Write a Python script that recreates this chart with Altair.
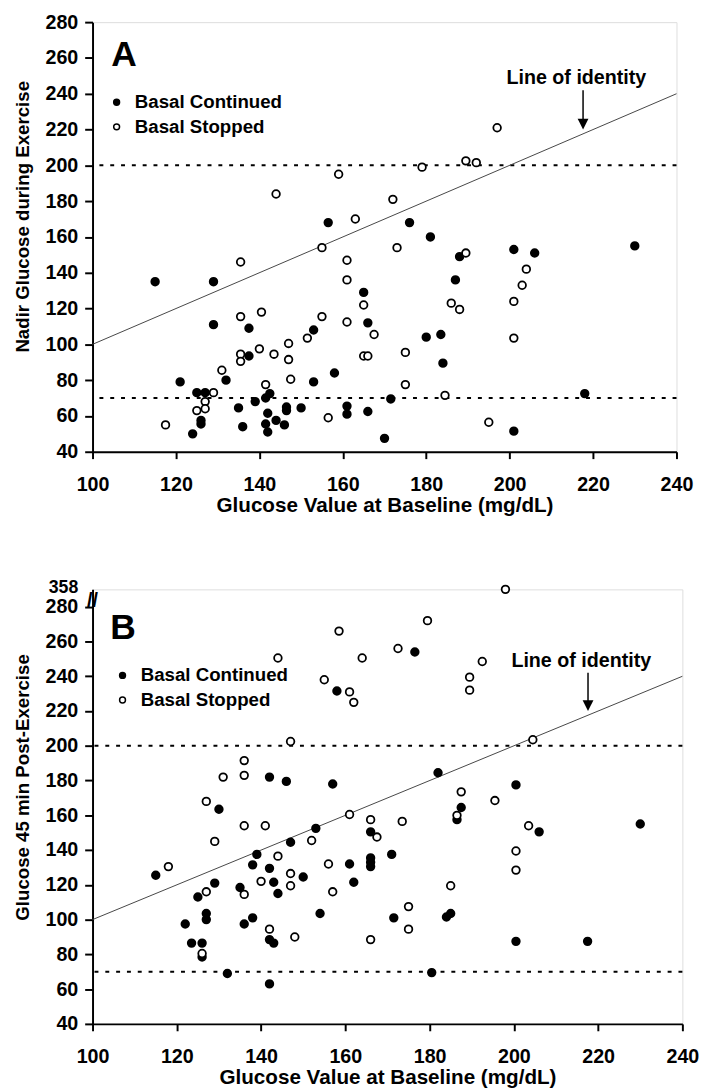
import altair as alt
import pandas as pd

FONT = "Liberation Sans"

groups = ["Basal Continued", "Basal Stopped"]

# ---------------- Panel A: nadir glucose during exercise ----------------
a_cont_x = [115, 129, 156.5, 176, 181, 165, 188, 201, 206, 230, 187, 129, 137.5, 153, 166,
            132, 121, 158, 153, 137.5, 125, 127, 142.5, 141.5, 139, 135, 142, 146.5, 146.5,
            150, 144, 141.5, 146, 142, 136, 126, 126, 124, 161, 161, 166, 171.5, 170, 180,
            183.5, 184, 218, 201]
a_cont_y = [135, 135, 168, 168, 160, 129, 149, 153, 151, 155, 136, 111, 109, 108, 112,
            80, 79, 84, 79, 93.5, 73, 73, 72.5, 70, 68, 64.5, 61.5, 63, 65,
            64.5, 57.5, 55.5, 55, 51, 54, 55.5, 57.5, 50, 65.5, 61, 62.5, 69.5, 47.5, 104,
            105.5, 89.5, 72.5, 51.5]
a_stop_x = [159, 144, 172, 163, 155, 161, 135.5, 197, 179, 189.5, 192, 173, 189.5, 204, 161,
            165, 135.5, 140.5, 155, 161, 151.5, 167.5, 147, 140, 143.5, 135.5, 135.5, 147,
            165, 166, 131, 147.5, 141.5, 129, 127, 125, 127, 117.5, 156.5, 203, 186, 188,
            201, 201, 175, 175, 184.5, 195]
a_stop_y = [195, 184, 181, 170, 154, 147, 146, 221, 199, 202.5, 201.5, 154, 151, 142, 136,
            122, 115.5, 118, 115.5, 112.5, 103.5, 105.5, 100.5, 97.5, 94.5, 94.5, 90.5, 91.5,
            93.5, 93.5, 85.5, 80.5, 77.5, 73, 68, 63, 64, 55, 59, 133, 123, 119.5,
            124, 103.5, 95.5, 77.5, 71.5, 56.5]

# ---------------- Panel B: glucose 45 min post-exercise ----------------
b_cont_x = [158, 142, 146, 157, 176.5, 182, 200.5, 187.5, 186.5, 206, 230, 171, 171.5, 184,
            185, 200.5, 217.5, 180.5, 130, 166, 153, 147, 139, 138, 142, 115, 161, 166, 166,
            166, 150, 143, 129, 135, 144, 125, 162, 127, 127, 154, 122, 136, 138, 142, 143,
            123.5, 126, 126, 132, 142]
b_cont_y = [231.5, 182, 179.5, 178, 254, 184.5, 177.5, 164.5, 157.5, 150.5, 155, 137.5, 101,
            101.5, 103.5, 87.5, 87.5, 69.5, 163.5, 150.5, 152.5, 144.5, 137.5, 131.5, 129.5,
            125.5, 132, 135.5, 133, 130.5, 124.5, 121.5, 121, 118.5, 115, 113, 121.5, 103.5,
            100, 103.5, 97.5, 97.5, 101, 88.5, 86.5, 86.5, 86.5, 78.5, 69, 63]
b_stop_x = [158.5, 144, 164, 155, 161, 162, 147, 136, 136, 131, 198, 179.5, 172.5, 192.5,
            189.5, 189.5, 204.5, 187.5, 195.5, 186.5, 173.5, 203.5, 200.5, 200.5, 185, 175,
            175, 127, 136, 141, 161, 166, 167.5, 129, 152, 144, 118, 156, 147, 140, 147, 136,
            127, 157, 142, 148, 126, 166]
b_stop_y = [266, 250.5, 250.5, 238, 231, 225, 202.5, 191.5, 183, 182, 358, 272, 256, 248.5,
            239.5, 232, 203.5, 173.5, 168.5, 160, 156.5, 154, 139.5, 128.5, 119.5, 107.5,
            94.5, 168, 154, 154, 160.5, 157.5, 147.5, 145, 145.5, 136.5, 130.5, 132, 126.5,
            122, 119.5, 114.5, 116, 116, 94.5, 90, 80.5, 88.5]

x_ticks = [100, 120, 140, 160, 180, 200, 220, 240]
y_ticks_a = [40, 60, 80, 100, 120, 140, 160, 180, 200, 220, 240, 260, 280]
y_ticks_b = y_ticks_a + [290]          # 290 = axis-break position carrying the 358 label
axis_break = 290
reference_levels = [70, 200]
identity_ends = [100, 240]

# annotation anchor points (data units)
note_xy = (216, 249)
arrow_x = 217.6
arrow_from, arrow_to = 242, 220


def points_frame(cx, cy, sx, sy):
    return pd.DataFrame({
        "x": cx + sx,
        "y": cy + sy,
        "group": [groups[0]] * len(cx) + [groups[1]] * len(sx),
    })


def panel(df, letter, ytitle, yticks, ytop, w, h, legend_x, legend_y, letter_x, letter_y,
          title_shift):
    xscale = alt.Scale(domain=[100, 240], nice=False, zero=False)
    yscale = alt.Scale(domain=[40, ytop], nice=False, zero=False)
    xaxis = alt.Axis(values=x_ticks, title="Glucose Value at Baseline (mg/dL)", grid=False,
                     domainColor="black", domainWidth=2, tickColor="black", tickWidth=2,
                     tickSize=7, labelPadding=16, labelFontSize=20, labelFont=FONT,
                     labelFontWeight="bold", labelColor="black", titleFont=FONT,
                     titleFontSize=21, titleFontWeight="bold", titleColor="black",
                     titlePadding=1, labelFlush=False, labelOverlap=False)
    yaxis = alt.Axis(values=yticks, title=ytitle, grid=False, domainColor="black",
                     domainWidth=2, tickColor="black", tickWidth=2, tickSize=8,
                     tickOpacity=alt.condition("datum.value == 290", alt.value(0), alt.value(1)),
                     labelPadding=7,
                     labelFontSize=alt.condition("datum.value == 290", alt.value(18), alt.value(20)),
                     labelOffset=alt.condition("datum.value == 290", alt.value(-2), alt.value(0)),
                     labelFont=FONT, labelFontWeight="bold",
                     labelColor="black", labelExpr="datum.value == 290 ? '358' : datum.label",
                     titleFont=FONT, titleFontSize=19, titleFontWeight="bold",
                     titleColor="black", titlePadding=13, titleY=h / 2 - title_shift,
                     labelFlush=False, labelOverlap=False)

    def X(f):
        return alt.X(f, scale=xscale, axis=xaxis)

    def Y(f):
        return alt.Y(f, scale=yscale, axis=yaxis)

    def XD(v):
        return alt.XDatum(v, scale=xscale, axis=xaxis)

    def YD(v):
        return alt.YDatum(v, scale=yscale, axis=yaxis)

    pts = alt.Chart(df).transform_calculate(
        yp=f"datum.y > 280 ? {axis_break} : datum.y"
    ).mark_point(filled=True, stroke="black", strokeWidth=1.8, size=60, opacity=1).encode(
        x=X("x:Q"),
        y=Y("yp:Q"),
        fill=alt.Fill("group:N", scale=alt.Scale(domain=groups, range=["black", "white"]),
                      legend=alt.Legend(orient="none", legendX=legend_x, legendY=legend_y,
                                        title=None, labelFont=FONT, labelFontSize=19,
                                        labelFontWeight="bold", labelColor="black",
                                        symbolType="circle", symbolSize=36,
                                        symbolStrokeColor="black", symbolStrokeWidth=1.5,
                                        labelOffset=9, rowPadding=5, padding=0)),
    )

    ident = alt.Chart(pd.DataFrame({"x": identity_ends, "y": identity_ends})).mark_line(
        color="#444", strokeWidth=1).encode(x=X("x:Q"), y=Y("y:Q"))

    rules = alt.Chart(pd.DataFrame({"y": reference_levels})).mark_rule(
        color="black", strokeWidth=2, strokeDash=[4, 7]).encode(y=Y("y:Q"))

    note = alt.Chart().mark_text(text="Line of identity", font=FONT, fontSize=20,
                                 fontWeight="bold", color="black").encode(
        x=XD(note_xy[0]), y=YD(note_xy[1]))
    arrow = alt.Chart().mark_rule(color="black", strokeWidth=1.5).encode(
        x=XD(arrow_x), y=YD(arrow_from), y2=alt.Y2Datum(arrow_to + 4))
    head = alt.Chart().mark_point(shape="M -1 -2 L 1 -2 L 0 0 Z", filled=True, color="black",
                                  size=121, opacity=1).encode(
        x=XD(arrow_x), y=YD(arrow_to))

    lab = alt.Chart().mark_text(text=letter, font=FONT, fontSize=36, fontWeight="bold",
                                color="black", align="left", baseline="alphabetic").encode(
        x=alt.value(letter_x), y=alt.value(letter_y))

    layers = [rules, ident, pts, note, arrow, head, lab]
    if ytop > 280:
        brk = alt.Chart().mark_text(text="//", font=FONT, fontSize=20, fontWeight="bold",
                                    color="black").encode(x=alt.value(0), y=YD(283))
        layers.append(brk)
    return alt.layer(*layers).properties(width=w, height=h)


dfa = points_frame(a_cont_x, a_cont_y, a_stop_x, a_stop_y)
dfb = points_frame(b_cont_x, b_cont_y, b_stop_x, b_stop_y)

pa = panel(dfa, "A", "Nadir Glucose during Exercise", y_ticks_a, 280, 594, 437,
           15, 72, 19, 45, 21)
pb = panel(dfb, "B", "Glucose 45 min Post-Exercise", y_ticks_b, axis_break, 600, 442,
           21, 78, 18, 50, 20)

chart = alt.vconcat(pa, pb, spacing=62).resolve_legend(fill="independent").properties(
    padding={"top": -6, "left": 5, "right": 5, "bottom": 0}
).configure_view(stroke="#777", strokeWidth=1).configure(background="white")

chart.save("out.html", embed_options={"renderer": "svg", "actions": False})
